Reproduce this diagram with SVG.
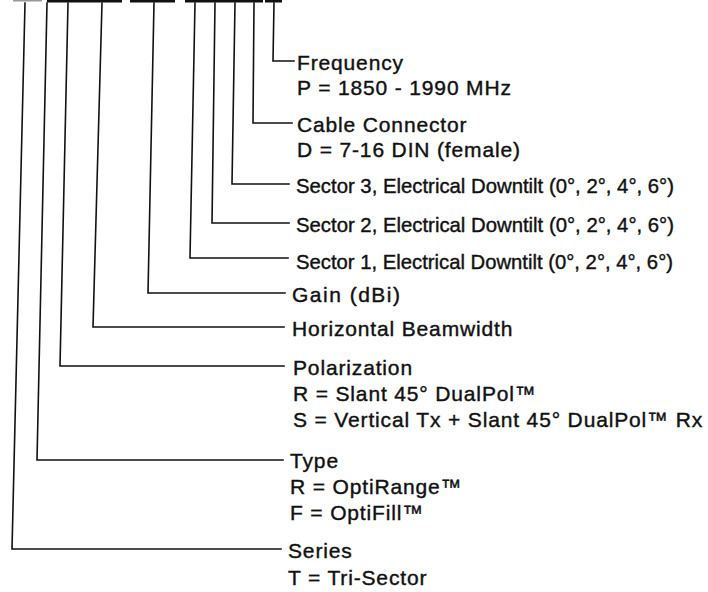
<svg xmlns="http://www.w3.org/2000/svg" width="708" height="592" viewBox="0 0 708 592">
<style>
.bg{fill:#fff}
.ln{fill:none;stroke:#111;stroke-width:1.6;stroke-linejoin:miter;stroke-linecap:square}
.bar{fill:#111}
text{font-family:"Liberation Sans",Arial,Helvetica,sans-serif;font-size:21px;fill:#111;stroke:#111;stroke-width:0.4}
.w{letter-spacing:0.85px}
</style>
<rect class="bg" x="0" y="0" width="708" height="592"/>
<g id="top-bar">
<rect x="13" y="0" width="29" height="1.5" fill="#999"/>
<rect class="bar" x="47" y="0" width="75" height="2.5"/>
<rect class="bar" x="130" y="0" width="45" height="2.5"/>
<rect class="bar" x="185" y="0" width="78" height="2.5"/>
<rect class="bar" x="265" y="0" width="17" height="2.5"/>
</g>
<g id="connectors">
<polyline class="ln" points="274,3 273,61 294,61"/>
<polyline class="ln" points="254,3 253,123 292,123"/>
<polyline class="ln" points="235,3 232,184 289,184"/>
<polyline class="ln" points="215,3 212,223 289,223"/>
<polyline class="ln" points="195,3 190,258 288,258"/>
<polyline class="ln" points="154,3 148,293 285,293"/>
<polyline class="ln" points="102,3 93,327 284,327"/>
<polyline class="ln" points="68,3 60,366 284,366"/>
<polyline class="ln" points="47,3 37,460 283,460"/>
<polyline class="ln" points="25,3 12,549 281,549"/>
</g>
<g id="frequency">
<text class="w" x="297" y="70">Frequency</text>
<text class="w" x="297" y="95">P = 1850 - 1990 MHz</text>
</g>
<g id="cable-connector">
<text class="w" x="297" y="132">Cable Connector</text>
<text class="w" x="297" y="157">D = 7-16 DIN (female)</text>
</g>
<g id="sector-3">
<text x="296" y="193" textLength="378" lengthAdjust="spacingAndGlyphs">Sector 3, Electrical Downtilt (0°, 2°, 4°, 6°)</text>
</g>
<g id="sector-2">
<text x="296" y="232" textLength="378" lengthAdjust="spacingAndGlyphs">Sector 2, Electrical Downtilt (0°, 2°, 4°, 6°)</text>
</g>
<g id="sector-1">
<text x="296" y="269" textLength="377" lengthAdjust="spacingAndGlyphs">Sector 1, Electrical Downtilt (0°, 2°, 4°, 6°)</text>
</g>
<g id="gain">
<text x="292" y="302" textLength="108" lengthAdjust="spacing">Gain (dBi)</text>
</g>
<g id="horizontal-beamwidth">
<text class="w" x="292" y="336">Horizontal Beamwidth</text>
</g>
<g id="polarization">
<text class="w" x="293" y="375">Polarization</text>
<text class="w" x="293" y="401">R = Slant 45° DualPol™</text>
<text class="w" x="293" y="427">S = Vertical Tx + Slant 45° DualPol™ Rx</text>
</g>
<g id="type">
<text class="w" x="290" y="468">Type</text>
<text class="w" x="290" y="494">R = OptiRange™</text>
<text class="w" x="290" y="520">F = OptiFill™</text>
</g>
<g id="series">
<text class="w" x="288" y="558">Series</text>
<text class="w" x="288" y="585">T = Tri-Sector</text>
</g>
</svg>
